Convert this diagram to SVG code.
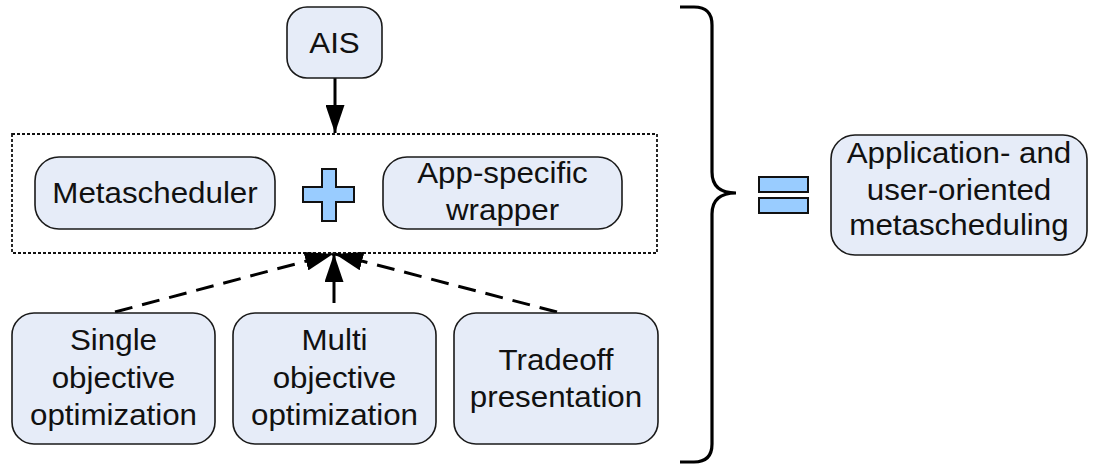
<svg xmlns="http://www.w3.org/2000/svg" width="1095" height="465" viewBox="0 0 1095 465">
  <style>
    .node { fill: #e6ecf8; stroke: #1a1a1a; stroke-width: 1.6; }
    .sym { fill: #99ccff; stroke: #111; stroke-width: 2; }
    .lbl { font-family: "Liberation Sans", Arial, sans-serif; font-size: 29px; fill: #111; text-anchor: middle; }
    .frame { fill: none; stroke: #111; stroke-width: 1.8; stroke-dasharray: 3 2; }
    .edge { fill: none; stroke: #000; stroke-width: 3; }
    .dash { stroke-dasharray: 18 10; }
    .brace { fill: none; stroke: #000; stroke-width: 3.2; }
  </style>
  <defs>
    <marker id="head" viewBox="0 0 10 10" refX="10" refY="5" markerUnits="userSpaceOnUse" markerWidth="28" markerHeight="19" orient="auto" preserveAspectRatio="none">
      <path d="M0 0 L10 5 L0 10 Z" fill="#000"/>
    </marker>
  </defs>

  <!-- grouping frame around the combined scheduler -->
  <rect class="frame" x="12" y="134" width="645" height="119"/>

  <!-- connectors -->
  <g id="connectors">
    <line class="edge" x1="335" y1="78" x2="335" y2="133" marker-end="url(#head)"/>
    <line class="edge" x1="334" y1="303" x2="334" y2="254" marker-end="url(#head)"/>
    <line class="edge dash" x1="115" y1="312" x2="333" y2="254" marker-end="url(#head)"/>
    <line class="edge dash" x1="557" y1="312" x2="335" y2="254" marker-end="url(#head)"/>
  </g>

  <g id="ais">
    <rect class="node" x="287" y="7" width="95" height="71" rx="20"/>
    <text class="lbl" transform="translate(334.5 0) scale(1.08 1)"><tspan x="0" y="53">AIS</tspan></text>
  </g>

  <g id="metascheduler">
    <rect class="node" x="35" y="157" width="240" height="72" rx="24"/>
    <text class="lbl" transform="translate(155 0) scale(1.08 1)"><tspan x="0" y="203">Metascheduler</tspan></text>
  </g>

  <g id="plus">
    <path class="sym" d="M322 169 H336 V187 H354 V202 H336 V221 H322 V202 H303 V187 H322 Z"/>
  </g>

  <g id="wrapper">
    <rect class="node" x="383" y="157" width="239" height="72" rx="24"/>
    <text class="lbl" transform="translate(502.5 0) scale(1.08 1)"><tspan x="0" y="183">App-specific</tspan><tspan x="0" y="220">wrapper</tspan></text>
  </g>

  <g id="single">
    <rect class="node" x="12" y="313" width="203" height="131" rx="22"/>
    <text class="lbl" transform="translate(113.5 0) scale(1.08 1)"><tspan x="0" y="350">Single</tspan><tspan x="0" y="388">objective</tspan><tspan x="0" y="425">optimization</tspan></text>
  </g>

  <g id="multi">
    <rect class="node" x="233" y="313" width="203" height="131" rx="22"/>
    <text class="lbl" transform="translate(334.5 0) scale(1.08 1)"><tspan x="0" y="350">Multi</tspan><tspan x="0" y="388">objective</tspan><tspan x="0" y="425">optimization</tspan></text>
  </g>

  <g id="tradeoff">
    <rect class="node" x="454" y="313" width="204" height="131" rx="22"/>
    <text class="lbl" transform="translate(556 0) scale(1.08 1)"><tspan x="0" y="370">Tradeoff</tspan><tspan x="0" y="407">presentation</tspan></text>
  </g>

  <!-- curly brace -->
  <path class="brace" d="M680 7 H694 Q712 7 712 25 V172 Q712 193 736 193 Q712 193 712 214 V444 Q712 462 694 462 H680"/>

  <g id="equals">
    <rect class="sym" x="759" y="177" width="49" height="15"/>
    <rect class="sym" x="759" y="198" width="49" height="15"/>
  </g>

  <g id="result">
    <rect class="node" x="831" y="135" width="256" height="120" rx="24"/>
    <text class="lbl" transform="translate(959 0) scale(1.08 1)"><tspan x="0" y="163">Application- and</tspan><tspan x="0" y="200">user-oriented</tspan><tspan x="0" y="235">metascheduling</tspan></text>
  </g>
</svg>
